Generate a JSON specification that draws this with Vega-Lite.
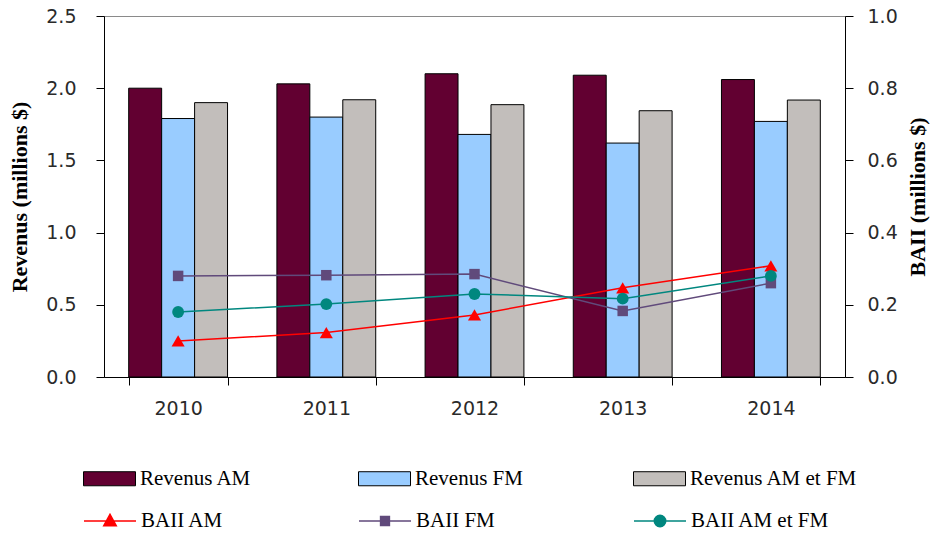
{
  "$schema": "https://vega.github.io/schema/vega-lite/v6.json",
  "autosize": {"type": "none"},
  "padding": {"left": 104, "top": 16, "right": 87, "bottom": 156},
  "width": 741,
  "height": 361,
  "background": "white",
  "config": {
    "view": {"stroke": "#8a8a8a", "strokeWidth": 1},
    "axis": {
      "labelFont": "DejaVu Sans",
      "labelFontSize": 19,
      "labelColor": "#2a2a2a",
      "domainColor": "black",
      "tickColor": "black",
      "grid": false,
      "titleFont": "Liberation Serif",
      "titleFontSize": 22,
      "titleFontWeight": "bold",
      "titleColor": "black"
    },
    "legend": {
      "labelFont": "Liberation Serif",
      "labelFontSize": 21,
      "labelColor": "black",
      "labelLimit": 400,
      "padding": 0
    }
  },
  "data": {
    "values": [
      {"year": "2010", "series": "Revenus AM", "kind": "rev", "value": 2.00},
      {"year": "2011", "series": "Revenus AM", "kind": "rev", "value": 2.03},
      {"year": "2012", "series": "Revenus AM", "kind": "rev", "value": 2.10},
      {"year": "2013", "series": "Revenus AM", "kind": "rev", "value": 2.09},
      {"year": "2014", "series": "Revenus AM", "kind": "rev", "value": 2.06},
      {"year": "2010", "series": "Revenus FM", "kind": "rev", "value": 1.79},
      {"year": "2011", "series": "Revenus FM", "kind": "rev", "value": 1.80},
      {"year": "2012", "series": "Revenus FM", "kind": "rev", "value": 1.68},
      {"year": "2013", "series": "Revenus FM", "kind": "rev", "value": 1.62},
      {"year": "2014", "series": "Revenus FM", "kind": "rev", "value": 1.77},
      {"year": "2010", "series": "Revenus AM et FM", "kind": "rev", "value": 1.90},
      {"year": "2011", "series": "Revenus AM et FM", "kind": "rev", "value": 1.92},
      {"year": "2012", "series": "Revenus AM et FM", "kind": "rev", "value": 1.886},
      {"year": "2013", "series": "Revenus AM et FM", "kind": "rev", "value": 1.844},
      {"year": "2014", "series": "Revenus AM et FM", "kind": "rev", "value": 1.918},
      {"year": "2010", "series": "BAII AM", "kind": "baii", "value": 0.100},
      {"year": "2011", "series": "BAII AM", "kind": "baii", "value": 0.123},
      {"year": "2012", "series": "BAII AM", "kind": "baii", "value": 0.172},
      {"year": "2013", "series": "BAII AM", "kind": "baii", "value": 0.247},
      {"year": "2014", "series": "BAII AM", "kind": "baii", "value": 0.308},
      {"year": "2010", "series": "BAII FM", "kind": "baii", "value": 0.280},
      {"year": "2011", "series": "BAII FM", "kind": "baii", "value": 0.282},
      {"year": "2012", "series": "BAII FM", "kind": "baii", "value": 0.285},
      {"year": "2013", "series": "BAII FM", "kind": "baii", "value": 0.183},
      {"year": "2014", "series": "BAII FM", "kind": "baii", "value": 0.260},
      {"year": "2010", "series": "BAII AM et FM", "kind": "baii", "value": 0.180},
      {"year": "2011", "series": "BAII AM et FM", "kind": "baii", "value": 0.202},
      {"year": "2012", "series": "BAII AM et FM", "kind": "baii", "value": 0.230},
      {"year": "2013", "series": "BAII AM et FM", "kind": "baii", "value": 0.217},
      {"year": "2014", "series": "BAII AM et FM", "kind": "baii", "value": 0.280}
    ]
  },
  "encoding": {
    "x": {
      "field": "year",
      "type": "nominal",
      "scale": {"paddingInner": 0.333, "paddingOuter": 0.1667},
      "axis": {
        "title": null,
        "labelAngle": 0,
        "tickBand": "extent",
        "tickSize": 8,
        "labelPadding": 14,
        "domainColor": "black"
      }
    }
  },
  "layer": [
    {
      "transform": [{"filter": "datum.kind === 'rev'"}],
      "mark": {"type": "bar", "stroke": "black", "strokeWidth": 1},
      "encoding": {
        "xOffset": {"field": "series", "type": "nominal", "sort": ["Revenus AM", "Revenus FM", "Revenus AM et FM"]},
        "y": {
          "field": "value",
          "type": "quantitative",
          "scale": {"domain": [0, 2.5], "nice": false},
          "axis": {
            "title": "Revenus (millions $)",
            "values": [0, 0.5, 1.0, 1.5, 2.0, 2.5],
            "format": ".1f",
            "tickSize": 8,
            "labelPadding": 20,
            "titlePadding": 14
          }
        },
        "color": {
          "field": "series",
          "type": "nominal",
          "sort": ["Revenus AM", "Revenus FM", "Revenus AM et FM"],
          "scale": {
            "domain": ["Revenus AM", "Revenus FM", "Revenus AM et FM"],
            "range": ["#620031", "#99ccff", "#c2bebb"]
          },
          "legend": {
            "title": null,
            "orient": "none",
            "legendX": -21,
            "legendY": 436,
            "direction": "horizontal",
            "columns": 3,
            "gridAlign": "all",
            "columnPadding": 48,
            "symbolType": "M-1,-0.27H1V0.27H-1Z",
            "symbolSize": 2704,
            "symbolStrokeColor": "black",
            "symbolStrokeWidth": 1,
            "labelOffset": 4
          }
        }
      }
    },
    {
      "transform": [{"filter": "datum.kind === 'baii'"}],
      "encoding": {
        "y": {
          "field": "value",
          "type": "quantitative",
          "scale": {"domain": [0, 1], "nice": false},
          "axis": {
            "orient": "right",
            "title": "BAII (millions $)",
            "titleAngle": 270,
            "titleBaseline": "top",
            "values": [0, 0.2, 0.4, 0.6, 0.8, 1.0],
            "format": ".1f",
            "tickSize": 8,
            "labelPadding": 14,
            "titlePadding": 10
          }
        },
        "color": {
          "field": "series",
          "type": "nominal",
          "scale": {
            "domain": ["BAII AM", "BAII FM", "BAII AM et FM"],
            "range": ["#ff0000", "#604a7b", "#00877f"]
          },
          "legend": null
        }
      },
      "layer": [
        {
          "mark": {"type": "line", "strokeWidth": 1.5},
          "encoding": {
            "color": {
              "field": "series",
              "type": "nominal",
              "scale": {
                "domain": ["BAII AM", "BAII FM", "BAII AM et FM"],
                "range": ["#ff0000", "#604a7b", "#00877f"]
              },
              "legend": {
                "title": null,
                "orient": "none",
                "legendX": -21,
                "legendY": 478,
                "direction": "horizontal",
                "columns": 3,
                "gridAlign": "all",
                "columnPadding": 76,
                "symbolSize": 2704,
                "symbolOpacity": 1,
                "labelOffset": 4,
                "encode": {
                  "symbols": {
                    "update": {
                      "shape": {"signal": "datum.value === 'BAII AM' ? 'M-1,0H1M0,-0.26L0.24,0.18H-0.24Z' : datum.value === 'BAII FM' ? 'M-1,0H1M-0.17,-0.17H0.17V0.17H-0.17Z' : 'M-1,0H1M0.22,0A0.22,0.22,0,1,1,-0.22,0A0.22,0.22,0,1,1,0.22,0Z'"},
                      "stroke": {"signal": "datum.value === 'BAII AM' ? '#ff0000' : datum.value === 'BAII FM' ? '#6a5a8a' : '#00897f'"},
                      "fill": {"signal": "datum.value === 'BAII AM' ? '#ff0000' : datum.value === 'BAII FM' ? '#604a7b' : '#00877f'"},
                      "strokeWidth": {"value": 1.5},
                      "opacity": {"value": 1}
                    }
                  }
                }
              }
            }
          }
        },
        {
          "transform": [{"filter": "datum.series === 'BAII AM'"}],
          "mark": {"type": "point", "filled": true, "opacity": 1, "size": 170, "shape": "triangle-up"}
        },
        {
          "transform": [{"filter": "datum.series === 'BAII FM'"}],
          "mark": {"type": "point", "filled": true, "opacity": 1, "size": 110, "shape": "square"}
        },
        {
          "transform": [{"filter": "datum.series === 'BAII AM et FM'"}],
          "mark": {"type": "point", "filled": true, "opacity": 1, "size": 140, "shape": "circle"}
        }
      ]
    }
  ],
  "resolve": {"scale": {"y": "independent", "color": "independent"}}
}
